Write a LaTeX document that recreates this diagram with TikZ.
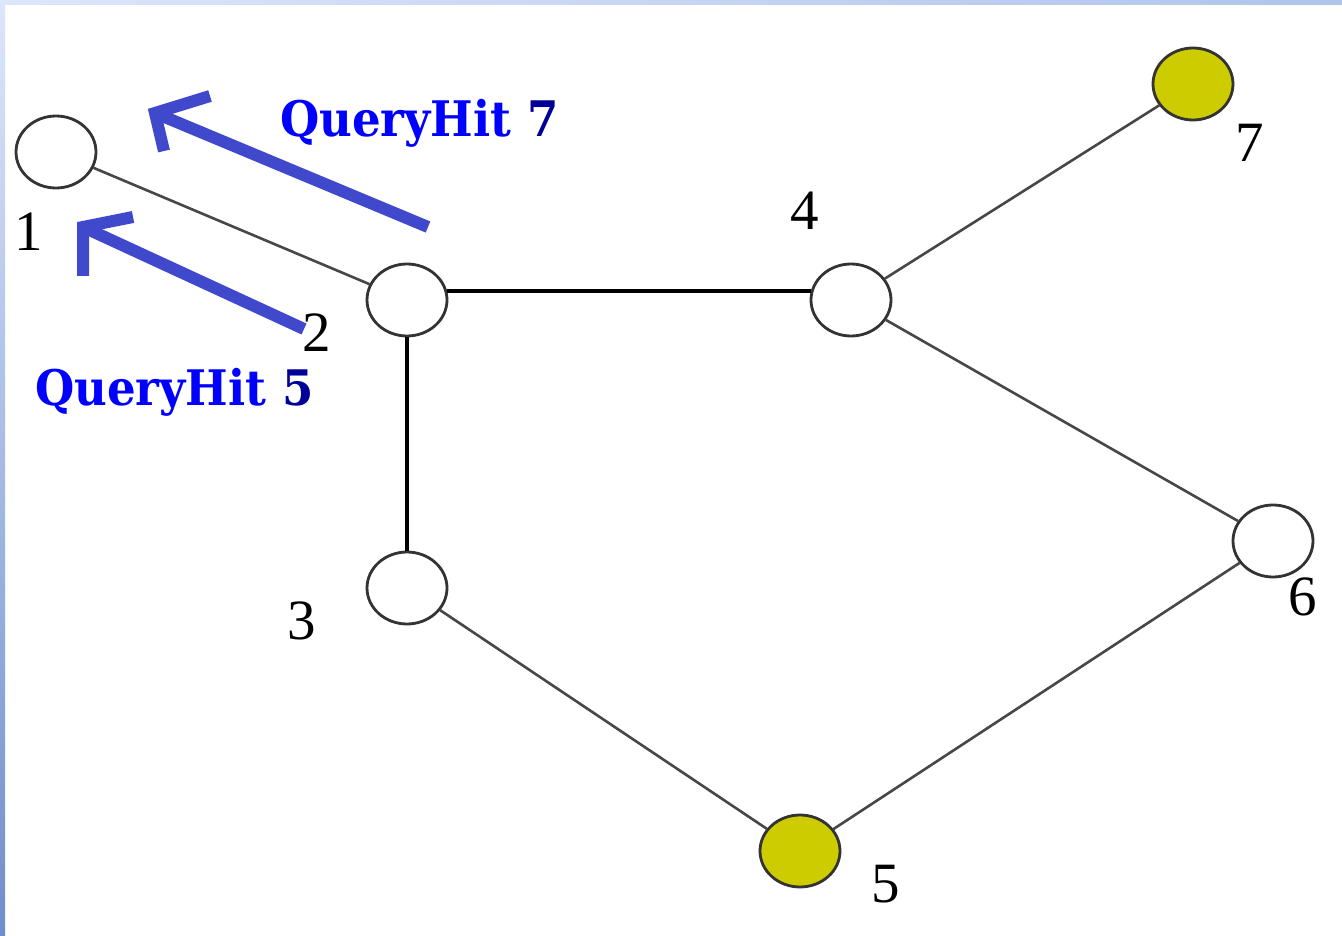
\documentclass[tikz,border=0pt]{standalone}
\usepackage{fontspec}
\setmainfont{Liberation Serif}
\newfontfamily\hitfont[FakeStretch=0.92]{DejaVu Serif}
\usetikzlibrary{shapes.geometric}

\definecolor{peerfill}{RGB}{204,204,0}
\definecolor{hitblue}{RGB}{0,0,255}
\definecolor{hitnum}{RGB}{0,0,153}
\definecolor{arrowblue}{RGB}{64,72,204}
\definecolor{frameA}{RGB}{220,230,252}
\definecolor{frameB}{RGB}{112,142,204}
\definecolor{frameC}{RGB}{176,196,236}

\tikzset{
  peer/.style={ellipse, draw=black!80, line width=2.8pt, fill=white,
    minimum width=80pt, minimum height=72pt, inner sep=0pt},
  hitpeer/.style={peer, fill=peerfill},
  link/.style={draw=black!72, line width=2.6pt},
  trunk/.style={draw=black, line width=4pt},
  peerlabel/.style={font=\fontsize{57}{57}\selectfont, inner sep=0pt, text=black},
  hitlabel/.style={font=\hitfont\bfseries\fontsize{49}{49}\selectfont, inner sep=0pt,
    text=hitblue, anchor=base west},
  hitarrow/.style={draw=arrowblue, line width=12pt, line cap=butt, line join=miter}
}

\begin{document}
\begin{tikzpicture}[x=1pt, y=-1pt]
  \useasboundingbox (0,0) rectangle (1342,936);
  \fill[white] (0,0) rectangle (1342,936);
  % window frame edges
  \shade[left color=frameA, right color=frameC] (0,0) rectangle (1342,5);
  \shade[top color=frameA, bottom color=frameB] (0,0) rectangle (5,936);

  % peers
  \node[peer]    (n1) at (56,152)  {};
  \node[peer]    (n2) at (407,300) {};
  \node[peer]    (n3) at (407,588) {};
  \node[peer]    (n4) at (851,300) {};
  \node[hitpeer] (n5) at (800,851) {};
  \node[peer]    (n6) at (1273,541) {};
  \node[hitpeer] (n7) at (1193,84) {};

  % overlay links
  \draw[link]  (n1) -- (n2);
  \draw[trunk] (n2.13) -- (n4.167);
  \draw[trunk] (n2) -- (n3);
  \draw[link]  (n4) -- (n7);
  \draw[link]  (n4) -- (n6);
  \draw[link]  (n3) -- (n5);
  \draw[link]  (n6) -- (n5);

  % peer numbers
  \node[peerlabel] (l1) at (29,232)   {1};
  \node[peerlabel] (l2) at (317,333)  {2};
  \node[peerlabel] (l3) at (302,621)  {3};
  \node[peerlabel] (l4) at (805,211)  {4};
  \node[peerlabel] (l5) at (886,884)  {5};
  \node[peerlabel] (l6) at (1303,597) {6};
  \node[peerlabel] (l7) at (1250,143) {7};

  % QueryHit messages travelling back towards peer 1
  \coordinate (h7tail) at (428,227);
  \coordinate (h7tip)  at (155,113);
  \coordinate (h7armA) at (210,96);
  \coordinate (h7armB) at (164,151);
  \draw[hitarrow] (h7tail) -- (h7tip);
  \draw[hitarrow] (h7armA) -- (h7tip) -- (h7armB);

  \coordinate (h5tail) at (304,329);
  \coordinate (h5tip)  at (83,227);
  \coordinate (h5armA) at (133,217);
  \coordinate (h5armB) at (83,276);
  \draw[hitarrow] (h5tail) -- (h5tip);
  \draw[hitarrow] (h5armA) -- (h5tip) -- (h5armB);

  \node[hitlabel] (q7) at (280,137) {QueryHit \textcolor{hitnum}{7}};
  \node[hitlabel] (q5) at (35,405)  {QueryHit \textcolor{hitnum}{5}};
\end{tikzpicture}
\end{document}
